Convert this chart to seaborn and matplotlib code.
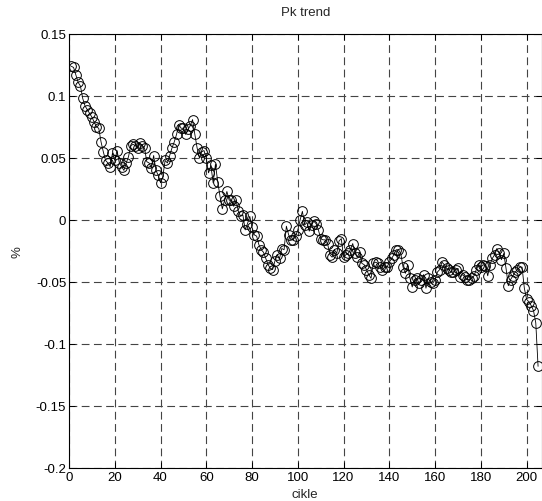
import numpy as np
import pandas as pd
import matplotlib
matplotlib.use("Agg")
import matplotlib.pyplot as plt
import seaborn as sns

# ---- data ----
pk_values = [
    0.124, 0.123, 0.117, 0.111, 0.108, 0.098, 0.092, 0.089, 0.086, 0.083,
    0.079, 0.075, 0.074, 0.063, 0.055, 0.048, 0.046, 0.043, 0.054, 0.048,
    0.056, 0.046, 0.043, 0.040, 0.046, 0.051, 0.060, 0.061, 0.060, 0.058,
    0.062, 0.060, 0.058, 0.047, 0.046, 0.042, 0.052, 0.040, 0.036, 0.030,
    0.035, 0.048, 0.046, 0.052, 0.058, 0.063, 0.069, 0.077, 0.074, 0.074,
    0.069, 0.073, 0.076, 0.081, 0.069, 0.058, 0.050, 0.055, 0.056, 0.050,
    0.038, 0.044, 0.030, 0.045, 0.031, 0.019, 0.009, 0.016, 0.023, 0.016,
    0.016, 0.011, 0.016, 0.007, 0.003, 0.004, -0.008, -0.003, 0.003, -0.006,
    -0.012, -0.013, -0.020, -0.024, -0.026, -0.031, -0.036, -0.039, -0.040, -0.033,
    -0.028, -0.031, -0.023, -0.024, -0.005, -0.012, -0.016, -0.016, -0.013, -0.008,
    0.000, 0.007, -0.004, -0.002, -0.009, -0.004, -0.001, -0.003, -0.008, -0.015,
    -0.016, -0.016, -0.019, -0.028, -0.030, -0.024, -0.027, -0.017, -0.015, -0.030,
    -0.028, -0.027, -0.024, -0.019, -0.027, -0.030, -0.026, -0.035, -0.036, -0.040,
    -0.044, -0.047, -0.035, -0.034, -0.035, -0.038, -0.040, -0.038, -0.038, -0.034,
    -0.031, -0.028, -0.024, -0.024, -0.027, -0.038, -0.043, -0.036, -0.047, -0.054,
    -0.048, -0.047, -0.051, -0.048, -0.044, -0.055, -0.047, -0.050, -0.051, -0.048,
    -0.042, -0.040, -0.034, -0.036, -0.039, -0.040, -0.042, -0.042, -0.040, -0.039,
    -0.046, -0.044, -0.046, -0.048, -0.048, -0.047, -0.045, -0.040, -0.036, -0.038,
    -0.036, -0.037, -0.045, -0.036, -0.031, -0.028, -0.023, -0.027, -0.032, -0.027,
    -0.039, -0.053, -0.048, -0.045, -0.042, -0.040, -0.038, -0.038, -0.055, -0.064,
    -0.066, -0.069, -0.073, -0.083, -0.118,
]
cycles = list(range(1, len(pk_values) + 1))

x_ticks = [0, 20, 40, 60, 80, 100, 120, 140, 160, 180, 200]
x_tick_labels = ["0", "20", "40", "60", "80", "100", "120", "140", "160", "180", "200"]
y_ticks = [-0.2, -0.15, -0.1, -0.05, 0, 0.05, 0.1, 0.15]
y_tick_labels = ["-0.2", "-0.15", "-0.1", "-0.05", "0", "0.05", "0.1", "0.15"]

title_text = "Pk trend"
x_label = "cikle"
y_label = "%"

df = pd.DataFrame({"cikle": cycles, "pk": pk_values})

# ---- style ----
sns.set_style("ticks")
plt.rcParams["font.family"] = ["Liberation Sans", "DejaVu Sans"]
plt.rcParams["axes.unicode_minus"] = False

fig = plt.figure(figsize=(5.42, 5.02), dpi=100)
ax = fig.add_axes([69 / 542, 33 / 502, 472.5 / 542, 434 / 502])

sns.lineplot(
    data=df, x="cikle", y="pk", ax=ax, color="black", linewidth=0.6,
    marker="o", markersize=7, markerfacecolor="none",
    markeredgecolor="black", markeredgewidth=0.7, errorbar=None,
)

ax.set_xlim(0, 206.5)
ax.set_ylim(-0.2, 0.15)
ax.set_xticks(x_ticks)
ax.set_xticklabels(x_tick_labels)
ax.set_yticks(y_ticks)
ax.set_yticklabels(y_tick_labels)

ax.grid(True, color="#444444", linestyle=(0, (7, 4)), linewidth=0.8)
ax.set_axisbelow(True)
for s in ax.spines.values():
    s.set_visible(True)
    s.set_color("black")
    s.set_linewidth(0.8)

ax.tick_params(direction="in", top=True, right=True, length=4, width=0.7,
               labelsize=9.5, colors="black", pad=2)

ax.set_title(title_text, fontsize=9.5, pad=14)
ax.set_xlabel(x_label, fontsize=9.5, labelpad=4)
ax.set_ylabel(y_label, fontsize=9.5, labelpad=9)

fig.savefig("out.png", dpi=100)
